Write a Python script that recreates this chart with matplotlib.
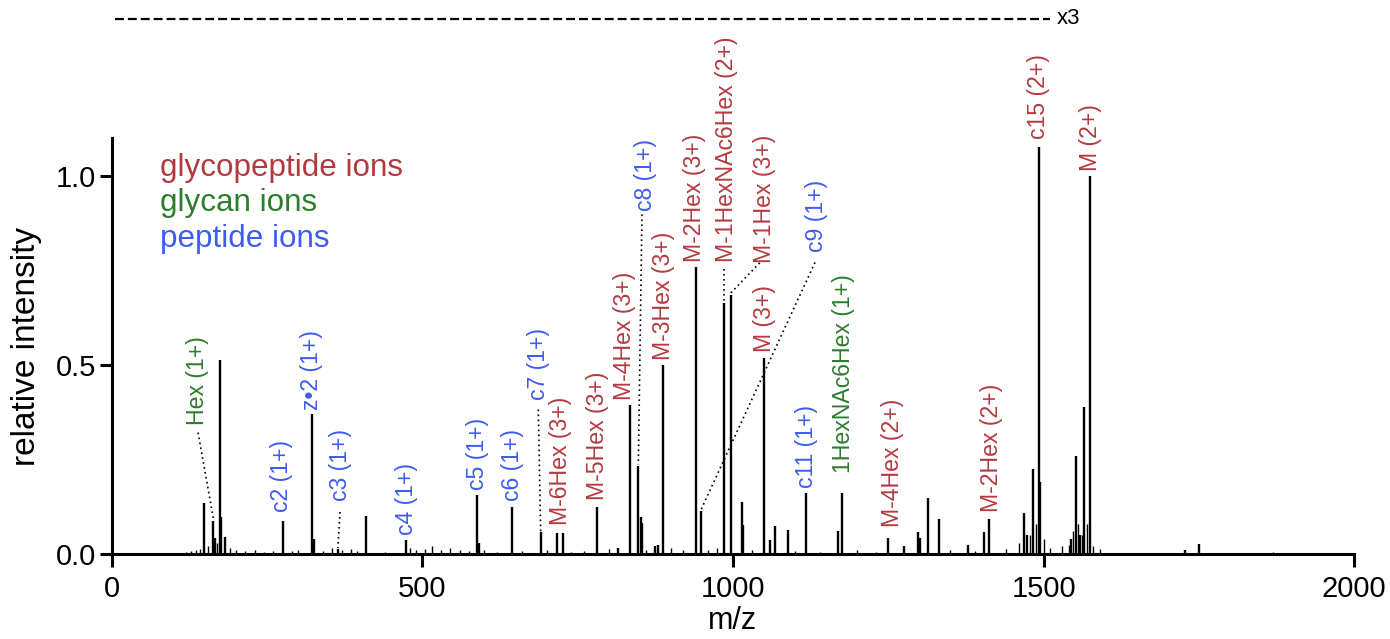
import matplotlib
matplotlib.use('Agg')
import matplotlib.pyplot as plt

plt.rcParams['font.family'] = ['Liberation Sans', 'DejaVu Sans']

RED = '#b23a3f'
GREEN = '#2c7d2c'
BLUE = '#3d5cf0'

# main peaks (m/z, relative intensity)
peak_mz = [149, 163.5, 166, 174.3, 176, 183, 275, 323, 325, 364, 410, 473.7,
           588.4, 591, 644.8, 690.5, 716.3, 725.9, 780.6, 815.4, 834.2, 847.6,
           851.4, 854, 874.5, 879.3, 887.8, 940.4, 948, 986, 996.3, 1014,
           1016.6, 1050.4, 1059.5, 1067.6, 1088, 1117.5, 1169, 1176, 1250,
           1275.7, 1298, 1301, 1313.4, 1331, 1378.7, 1404, 1412, 1469, 1473,
           1483.4, 1492.5, 1494.6, 1543.5, 1552, 1558.5, 1565.5, 1574.6,
           1727, 1750]
peak_int = [0.136, 0.088, 0.042, 0.514, 0.099, 0.046, 0.088, 0.370, 0.04,
            0.012, 0.100, 0.037, 0.156, 0.03, 0.125, 0.057, 0.056, 0.056,
            0.124, 0.015, 0.394, 0.232, 0.097, 0.083, 0.02, 0.025, 0.501,
            0.758, 0.113, 0.664, 0.686, 0.138, 0.077, 0.519, 0.037, 0.074,
            0.064, 0.162, 0.062, 0.160, 0.042, 0.02, 0.059, 0.042, 0.148,
            0.092, 0.024, 0.057, 0.092, 0.108, 0.05, 0.225, 1.075, 0.19,
            0.039, 0.26, 0.05, 0.389, 1.0, 0.01, 0.027]

# low level peaks along the baseline
noise_mz = [120, 128, 135, 142, 155, 170, 190, 200, 215, 230, 245, 260, 290,
            300, 340, 355, 370, 385, 395, 440, 480, 490, 505, 515, 530, 545,
            560, 575, 600, 620, 660, 700, 740, 760, 800, 860, 900, 920, 960,
            975, 1030, 1100, 1140, 1200, 1230, 1350, 1390, 1440, 1460, 1478,
            1487, 1500, 1510, 1530, 1540, 1548, 1555, 1562, 1570, 1580, 1590,
            1869]
noise_int = [0.005, 0.008, 0.01, 0.012, 0.02, 0.03, 0.015, 0.01, 0.008, 0.01,
             0.006, 0.008, 0.007, 0.01, 0.009, 0.015, 0.01, 0.012, 0.008,
             0.006, 0.015, 0.01, 0.012, 0.02, 0.01, 0.015, 0.01, 0.008, 0.01,
             0.006, 0.008, 0.01, 0.006, 0.008, 0.012, 0.01, 0.015, 0.01, 0.01,
             0.015, 0.01, 0.008, 0.006, 0.01, 0.005, 0.01, 0.008, 0.012, 0.03,
             0.05, 0.08, 0.04, 0.015, 0.02, 0.025, 0.06, 0.08, 0.05, 0.08,
             0.02, 0.012, 0.004]

# annotations: text, colour, label x, label bottom y, leader (from, to)
ann_text = ['Hex (1+)', 'c2 (1+)', 'z\u20222 (1+)', 'c3 (1+)', 'c4 (1+)',
            'c5 (1+)', 'c6 (1+)', 'c7 (1+)', 'M-6Hex (3+)', 'M-5Hex (3+)',
            'M-4Hex (3+)', 'c8 (1+)', 'M-3Hex (3+)', 'M-2Hex (3+)',
            'M-1HexNAc6Hex (2+)', 'M-1Hex (3+)', 'M (3+)', 'c9 (1+)',
            'c11 (1+)', '1HexNAc6Hex (1+)', 'M-4Hex (2+)', 'M-2Hex (2+)',
            'c15 (2+)', 'M (2+)']
ann_color = [GREEN, BLUE, BLUE, BLUE, BLUE, BLUE, BLUE, BLUE, RED, RED, RED,
             BLUE, RED, RED, RED, RED, RED, BLUE, BLUE, GREEN, RED, RED, RED,
             RED]
ann_x = [137.3, 273.6, 322, 367.5, 474.8, 588.4, 644.8, 686.6, 723, 782.7,
         826, 858.4, 887.4, 938.8, 990.3, 1051.5, 1051.5, 1135, 1118.6,
         1177.5, 1256, 1416, 1492.5, 1574.6]
ann_y = [0.342, 0.112, 0.382, 0.139, 0.05, 0.17, 0.139, 0.408, 0.077, 0.143,
         0.408, 0.906, 0.514, 0.771, 0.771, 0.77, 0.533, 0.798, 0.175, 0.215,
         0.072, 0.112, 1.097, 1.013]
leaders = {
    'Hex (1+)': ((139, 0.321), (163.5, 0.095)),
    'c3 (1+)': ((367.5, 0.111), (364, 0.016)),
    'c7 (1+)': ((686.6, 0.382), (690.5, 0.06)),
    'c8 (1+)': ((853.5, 0.898), (847.6, 0.236)),
    'M-1HexNAc6Hex (2+)': ((986, 0.753), (986, 0.667)),
    'M-1Hex (3+)': ((1043, 0.77), (996.3, 0.69)),
    'c9 (1+)': ((1132, 0.771), (948.5, 0.117)),
}

legend_text = ['glycopeptide ions', 'glycan ions', 'peptide ions']
legend_color = [RED, GREEN, BLUE]
legend_y = [0.999, 0.906, 0.813]

fig = plt.figure(figsize=(13.9, 6.39), dpi=100)
ax = fig.add_axes([0.08036, 0.13302, 0.89396, 0.65102])

ax.vlines(noise_mz, 0, noise_int, color='black', lw=1.0)
ax.vlines(peak_mz, 0, peak_int, color='black', lw=1.7)

for t, c, x, y in zip(ann_text, ann_color, ann_x, ann_y):
    ax.text(x, y, t, color=c, rotation=90, ha='center', va='bottom',
            fontsize=16.6, clip_on=False)
    if t in leaders:
        (x0, y0), (x1, y1) = leaders[t]
        ax.plot([x0, x1], [y0, y1], color='black', lw=1.2,
                ls=(0, (1, 2)), clip_on=False)

for t, c, y in zip(legend_text, legend_color, legend_y):
    ax.text(77, y, t, color=c, fontsize=22.6, ha='left', va='baseline')

# scale indicator above the plot
ax.plot([5, 1510], [1.415, 1.415], color='black', lw=1.6,
        dashes=(4, 1.8), clip_on=False)
ax.text(1521, 1.415, 'x3', fontsize=16, ha='left', va='center')

ax.set_xlim(0, 2000)
ax.set_ylim(0, 1.1)
ax.set_xticks([0, 500, 1000, 1500, 2000])
ax.set_yticks([0.0, 0.5, 1.0])
ax.set_yticklabels(['0.0', '0.5', '1.0'])
for s in ['top', 'right']:
    ax.spines[s].set_visible(False)
for s in ['left', 'bottom']:
    ax.spines[s].set_linewidth(2.2)
ax.tick_params(axis='both', width=2.2, length=9, labelsize=21)
ax.tick_params(axis='x', pad=6)
ax.tick_params(axis='y', pad=2)
ax.set_xlabel('m/z', fontsize=22, labelpad=2)
ax.set_ylabel('relative intensity', fontsize=24, labelpad=10)

fig.savefig('out.png', dpi=100)
